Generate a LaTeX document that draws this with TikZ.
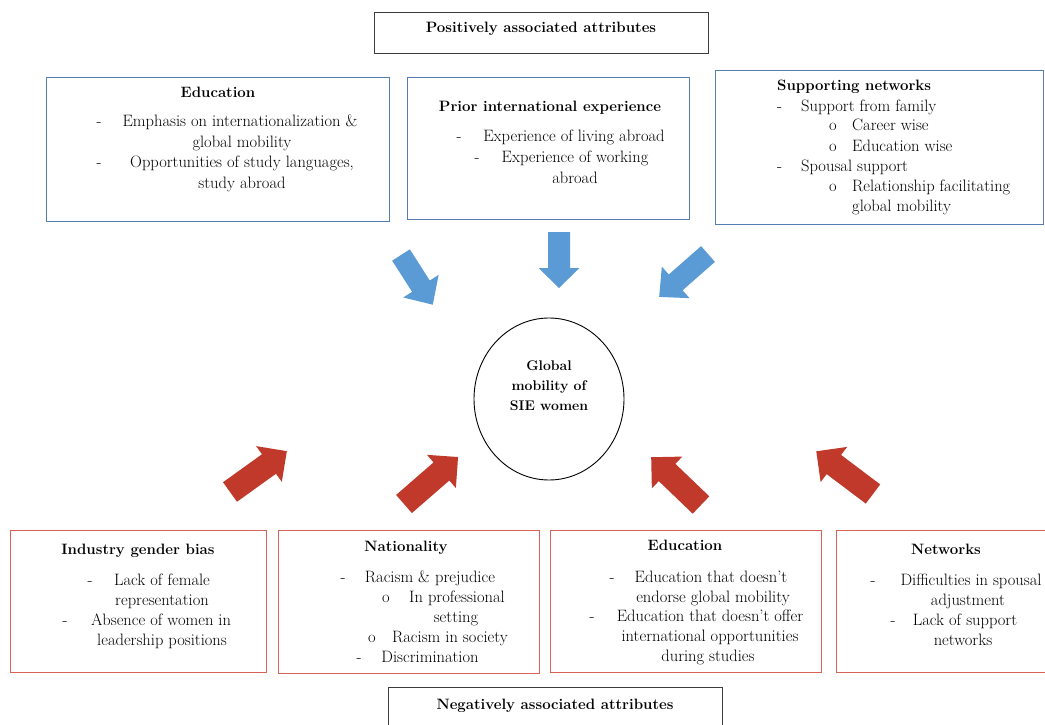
\documentclass[tikz,border=0pt]{standalone}
\usetikzlibrary{calc}
\definecolor{bluebox}{RGB}{84,126,178}
\definecolor{redbox}{RGB}{214,98,88}
\definecolor{bluearr}{RGB}{91,155,213}
\definecolor{redarr}{RGB}{192,57,43}
\definecolor{darkbox}{RGB}{60,60,60}
\newcommand\blockarr[7]{\fill[#1,shift={#2},rotate=#3] (0,-#5) -- ({#4-#7},-#5) -- ({#4-#7},-#6) -- (#4,0) -- ({#4-#7},#6) -- ({#4-#7},#5) -- (0,#5) -- cycle;}
\tikzset{
  txt/.style={anchor=base, inner sep=0pt, font=\fontsize{16.5}{20}\selectfont},
  txtl/.style={txt, anchor=base west},
  ttl/.style={anchor=base, inner sep=0pt, font=\fontsize{15}{20}\selectfont\bfseries},
  ttll/.style={ttl, anchor=base west},
  cir/.style={anchor=base, inner sep=0pt, font=\fontsize{14}{20}\selectfont\bfseries},
  posbox/.style={draw=bluebox, line width=0.9pt},
  negbox/.style={draw=redbox, line width=0.9pt},
  headbox/.style={draw=darkbox, line width=0.9pt},
}
\begin{document}
\begin{tikzpicture}[x=1pt,y=-1pt]
\useasboundingbox[fill=white] (0,0) rectangle (1045,725);
% header boxes
\draw[headbox] (374,12) rectangle (708,53);
\node[ttl] (ph) at (541,33) {Positively associated attributes};
\draw[headbox] (388,687) rectangle (722,745);
\node[ttl] (nh) at (555,709) {Negatively associated attributes};

% Education (positive)
\draw[posbox] (46,77) rectangle (389,221);
\node[ttl] (e0) at (218,97) {Education};
\node[txt] (e1d) at (99,127) {-};
\node[txt] (e1) at (240,127) {Emphasis on internationalization \&};
\node[txt] (e2) at (242,147) {global mobility};
\node[txt] (e3d) at (99,167) {-};
\node[txt] (e3) at (242,167) {Opportunities of study languages,};
\node[txt] (e4) at (242,188) {study abroad};

% Prior international experience
\draw[posbox] (407,77) rectangle (689,219);
\node[ttl] (p0) at (550,111) {Prior international experience};
\node[txt] (p1d) at (459,142) {-};
\node[txt] (p1) at (574,142) {Experience of living abroad};
\node[txt] (p2d) at (477,162) {-};
\node[txt] (p2) at (575,162) {Experience of working};
\node[txt] (p3) at (575,183) {abroad};

% Supporting networks
\draw[posbox] (715,70) rectangle (1043,224);
\node[ttll] (s0) at (777,91) {Supporting networks};
\node[txtl] (s1d) at (777,111) {-};
\node[txtl] (s1) at (801,111) {Support from family};
\node[txtl] (s2d) at (829,131) {o};
\node[txtl] (s2) at (852,131) {Career wise};
\node[txtl] (s3d) at (829,151) {o};
\node[txtl] (s3) at (852,151) {Education wise};
\node[txtl] (s4d) at (777,171) {-};
\node[txtl] (s4) at (801,171) {Spousal support};
\node[txtl] (s5d) at (829,191) {o};
\node[txtl] (s5) at (852,191) {Relationship facilitating};
\node[txtl] (s6) at (852,211) {global mobility};

% central circle
\draw[line width=0.9pt] (549,399) ellipse [x radius=75, y radius=81];
\node[cir] (c1) at (549,370) {Global};
\node[cir] (c2) at (549,390) {mobility of};
\node[cir] (c3) at (549,410) {SIE women};

% blue arrows
\blockarr{bluearr}{(401,255)}{-57.4}{59}{10.5}{21}{22}
\blockarr{bluearr}{(559,232)}{-90}{56}{11}{20.5}{20}
\blockarr{bluearr}{(708,254)}{-138.7}{65}{10.5}{21}{22}
% red arrows
\blockarr{redarr}{(230,492)}{35.7}{70}{12}{22}{22}
\blockarr{redarr}{(404,504)}{41}{71.6}{12}{22}{22}
\blockarr{redarr}{(701,505)}{136.2}{69}{12}{22}{22}
\blockarr{redarr}{(873,494)}{143}{71}{12}{22}{22}

% Industry gender bias
\draw[negbox] (10,530) rectangle (266,672);
\node[ttl] (i0) at (138,554) {Industry gender bias};
\node[txt] (i1d) at (90,585) {-};
\node[txt] (i1) at (162,585) {Lack of female};
\node[txt] (i2) at (162,605) {representation};
\node[txt] (i3d) at (65,625) {-};
\node[txt] (i3) at (161,625) {Absence of women in};
\node[txt] (i4) at (162,645) {leadership positions};

% Nationality
\draw[negbox] (278,530) rectangle (539,673);
\node[ttl] (n0) at (406,551) {Nationality};
\node[txt] (n1d) at (343,582) {-};
\node[txt] (n1) at (430,582) {Racism \& prejudice};
\node[txt] (n2d) at (386,602) {o};
\node[txt] (n2) at (457,602) {In professional};
\node[txt] (n3) at (456,622) {setting};
\node[txt] (n4d) at (372,642) {o};
\node[txt] (n4) at (450,642) {Racism in society};
\node[txt] (n5d) at (359,662) {-};
\node[txt] (n5) at (430,662) {Discrimination};

% Education (negative)
\draw[negbox] (550,530) rectangle (821,672);
\node[ttl] (d0) at (685,550) {Education};
\node[txt] (d1d) at (612,582) {-};
\node[txt] (d1) at (711,582) {Education that doesn't};
\node[txt] (d2) at (713,602) {endorse global mobility};
\node[txt] (d3d) at (592,621) {-};
\node[txt] (d3) at (710,621) {Education that doesn't offer};
\node[txt] (d4) at (710,641) {international opportunities};
\node[txt] (d5) at (708,661) {during studies};

% Networks
\draw[negbox] (836,530) rectangle (1050,672);
\node[ttl] (w0) at (946,554) {Networks};
\node[txt] (w1d) at (873,585) {-};
\node[txt] (w1) at (971,585) {Difficulties in spousal};
\node[txt] (w2) at (968,605) {adjustment};
\node[txt] (w3d) at (893,625) {-};
\node[txt] (w3) at (965,625) {Lack of support};
\node[txt] (w4) at (963,645) {networks};
\end{tikzpicture}
\end{document}
